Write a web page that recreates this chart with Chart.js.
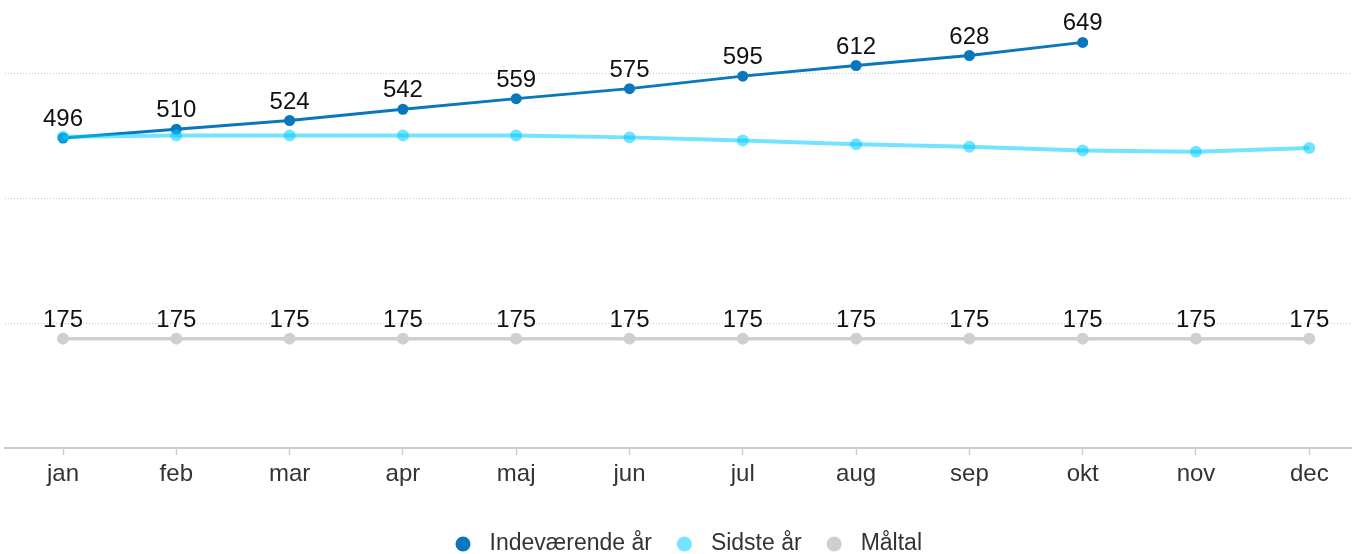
<!DOCTYPE html>
<html>
<head>
<meta charset="utf-8">
<script src="https://cdn.jsdelivr.net/npm/chart.js@4.4.1/dist/chart.umd.min.js"></script>
<style>
  html, body { margin: 0; padding: 0; background: #ffffff; }
  #wrap { position: relative; width: 1352px; height: 554px; }
</style>
</head>
<body>
<div id="wrap"><canvas id="c" width="1352" height="554"></canvas></div>
<script>
const months = ['jan','feb','mar','apr','maj','jun','jul','aug','sep','okt','nov','dec'];
const currentYear = [496, 510, 524, 542, 559, 575, 595, 612, 628, 649, null, null];
const lastYear = [498, 500, 500, 500, 500, 497, 492, 486, 482, 476, 474, 480];
const target = [175, 175, 175, 175, 175, 175, 175, 175, 175, 175, 175, 175];
const seriesNames = ['Indeværende år', 'Sidste år', 'Måltal'];
const yGridValues = [0, 200, 400, 600];

const FONT = "'Liberation Sans', Arial, Helvetica, sans-serif";

function toPoints(arr) {
  return arr.map((v, i) => ({ x: i, y: v }));
}

// legend marker: circle drawn toward the left of a 23px-wide box
function legendMarker(color) {
  const c = document.createElement('canvas');
  c.width = 23; c.height = 16;
  const g = c.getContext('2d');
  g.fillStyle = color;
  g.beginPath();
  g.arc(8, 8, 7.5, 0, Math.PI * 2);
  g.fill();
  return c;
}

const dataLabelPlugin = {
  id: 'valueLabels',
  afterDatasetsDraw(chart) {
    const ctx = chart.ctx;
    ctx.save();
    ctx.font = '24px ' + FONT;
    ctx.fillStyle = '#111111';
    ctx.textAlign = 'center';
    ctx.textBaseline = 'alphabetic';
    chart.data.datasets.forEach((ds, di) => {
      if (!ds.showValues) return;
      const meta = chart.getDatasetMeta(di);
      meta.data.forEach((pt, i) => {
        const v = ds.data[i].y;
        if (v === null || v === undefined) return;
        ctx.fillText(String(v), pt.x, pt.y - 12);
      });
    });
    ctx.restore();
  }
};

const legendShift = {
  id: 'legendShift',
  afterLayout(chart) {
    if (chart.legend) {
      chart.legend.left += 10;
      chart.legend.right += 10;
    }
  }
};

new Chart(document.getElementById('c'), {
  type: 'line',
  data: {
    datasets: [
      {
        label: seriesNames[0],
        data: toPoints(currentYear),
        borderColor: '#0a77bd',
        backgroundColor: '#0a77bd',
        borderWidth: 3,
        pointRadius: 5.5,
        pointBorderWidth: 0,
        tension: 0,
        spanGaps: false,
        showValues: true,
        order: 1
      },
      {
        label: seriesNames[1],
        data: toPoints(lastYear),
        borderColor: 'rgba(0, 204, 255, 0.55)',
        backgroundColor: 'rgba(0, 204, 255, 0.55)',
        borderWidth: 4,
        pointRadius: 6,
        pointBorderWidth: 0,
        tension: 0,
        showValues: false,
        order: 0
      },
      {
        label: seriesNames[2],
        data: toPoints(target),
        borderColor: '#cfcfcf',
        backgroundColor: '#cfcfcf',
        borderWidth: 3.5,
        pointRadius: 6,
        pointBorderWidth: 0,
        tension: 0,
        showValues: true,
        order: 2
      }
    ]
  },
  options: {
    responsive: false,
    animation: false,
    devicePixelRatio: 1,
    layout: { autoPadding: false, padding: { top: 10.5, left: 5, right: 0, bottom: -11.5 } },
    scales: {
      x: {
        type: 'linear',
        position: 'bottom',
        min: -0.512,
        max: 11.377,
        afterBuildTicks(scale) {
          scale.ticks = months.map((m, i) => ({ value: i }));
        },
        afterFit(scale) {
          scale.height = 60;
          scale.paddingLeft = 0;
          scale.paddingRight = 0;
        },
        ticks: {
          autoSkip: false,
          maxRotation: 0,
          padding: 5,
          color: '#333333',
          font: { family: FONT, size: 24 },
          callback: (v) => months[v]
        },
        grid: {
          drawOnChartArea: false,
          drawTicks: true,
          tickLength: 7,
          tickColor: '#cccccc',
          tickWidth: 1.5
        },
        border: { display: true, color: '#cccccc', width: 2 }
      },
      y: {
        min: 0,
        max: 700,
        afterBuildTicks(scale) {
          scale.ticks = yGridValues.map(v => ({ value: v }));
        },
        ticks: { display: false },
        grid: {
          drawTicks: false,
          color: '#c8c8c8',
          lineWidth: 1
        },
        border: { display: false, dash: [1, 2] }
      }
    },
    plugins: {
      tooltip: { enabled: false },
      legend: {
        position: 'bottom',
        labels: {
          usePointStyle: true,
          boxWidth: 23,
          boxHeight: 16,
          padding: 24.5,
          color: '#333333',
          font: { family: FONT, size: 23 },
          sort: (a, b) => a.datasetIndex - b.datasetIndex,
          generateLabels(chart) {
            const items = Chart.defaults.plugins.legend.labels.generateLabels(chart);
            return items.map(it => {
              const ds = chart.data.datasets[it.datasetIndex];
              it.pointStyle = legendMarker(ds.backgroundColor);
              return it;
            });
          }
        }
      }
    }
  },
  plugins: [dataLabelPlugin, legendShift]
});
</script>
</body>
</html>
